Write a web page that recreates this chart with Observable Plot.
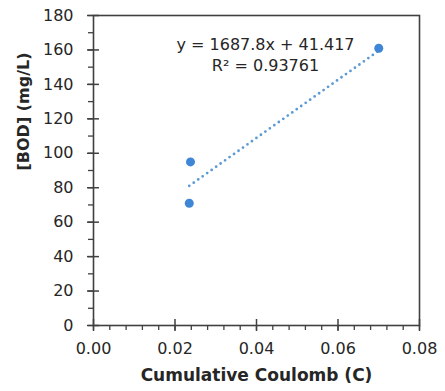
<!DOCTYPE html>
<html>
<head>
<meta charset="utf-8">
<script src="https://cdn.jsdelivr.net/npm/d3@7"></script>
<script src="https://cdn.jsdelivr.net/npm/@observablehq/plot@0.6"></script>
<style>
  html, body { margin: 0; padding: 0; background: #ffffff; }
</style>
</head>
<body>
<div id="chart"></div>
<script>
// Data
const coulomb = [0.0235, 0.0238, 0.0700];   // Cumulative Coulomb (C)
const bod = [71, 95, 161];                  // [BOD] (mg/L)
const trendSlope = 1687.8;
const trendIntercept = 41.417;
const trendR2 = 0.93761;
const xTicks = [0, 0.02, 0.04, 0.06, 0.08];
const yTicks = [0, 20, 40, 60, 80, 100, 120, 140, 160, 180];
const xMinorTicks = d3.range(0, 0.0801, 0.004);
const yMinorTicks = d3.range(0, 181, 10);
const xLabel = "Cumulative Coulomb (C)";
const yLabel = "[BOD] (mg/L)";

const points = coulomb.map((x, i) => ({x, y: bod[i]}));
const trend = d3.extent(coulomb).map(x => ({x, y: trendSlope * x + trendIntercept}));
const eqText = `y = ${trendSlope}x + ${trendIntercept}\nR² = ${trendR2}`;

const axisColor = "#404040";
const textColor = "#262626";

const chart = Plot.plot({
  width: 445,
  height: 391,
  marginLeft: 93,
  marginRight: 26,
  marginTop: 15,
  marginBottom: 66,
  style: {fontFamily: "'DejaVu Sans', sans-serif", fontSize: "16px", color: textColor, background: "#ffffff"},
  x: {domain: [0, 0.08]},
  y: {domain: [0, 180]},
  marks: [
    // minor ticks (outside)
    Plot.axisX({ticks: xMinorTicks, tickSize: 5, tickFormat: () => "", stroke: axisColor, strokeWidth: 1.3, label: null}),
    Plot.axisY({ticks: yMinorTicks, tickSize: 5, tickFormat: () => "", stroke: axisColor, strokeWidth: 1.3, label: null}),
    // major ticks crossing the axis
    Plot.axisX({ticks: xTicks, tickSize: -6, tickFormat: () => "", stroke: axisColor, strokeWidth: 1.5, label: null}),
    Plot.axisY({ticks: yTicks, tickSize: -6, tickFormat: () => "", stroke: axisColor, strokeWidth: 1.5, label: null}),
    Plot.axisX({ticks: xTicks, tickSize: 6, tickPadding: 11, tickFormat: d3.format(".2f"), stroke: axisColor, strokeWidth: 1.5, fill: textColor, fontSize: 16, label: null}),
    Plot.axisY({ticks: yTicks, tickSize: 6, tickPadding: 14, tickFormat: d3.format("d"), stroke: axisColor, strokeWidth: 1.5, fill: textColor, fontSize: 16, label: null}),
    Plot.frame({stroke: axisColor, strokeWidth: 1.6}),
    // trend line
    Plot.line(trend, {x: "x", y: "y", stroke: "#5b9bd5", strokeWidth: 2.8, strokeDasharray: "0 5.5", strokeLinecap: "round"}),
    // data points
    Plot.dot(points, {x: "x", y: "y", r: 4.5, fill: "#3f87d6", stroke: "none"}),
    // equation annotation
    Plot.text([eqText], {frameAnchor: "top", lineAnchor: "top", dx: 9, dy: 20, lineHeight: 1.3, fontSize: 16, fill: textColor, text: d => d}),
    // axis titles
    Plot.text([xLabel], {frameAnchor: "bottom", lineAnchor: "middle", dy: 50, fontSize: 17, fontWeight: "bold", fill: textColor, text: d => d}),
    Plot.text([yLabel], {frameAnchor: "left", lineAnchor: "middle", rotate: -90, dx: -70, fontSize: 16, fontWeight: "bold", fill: textColor, text: d => d})
  ]
});

document.getElementById("chart").appendChild(chart);
</script>
</body>
</html>
